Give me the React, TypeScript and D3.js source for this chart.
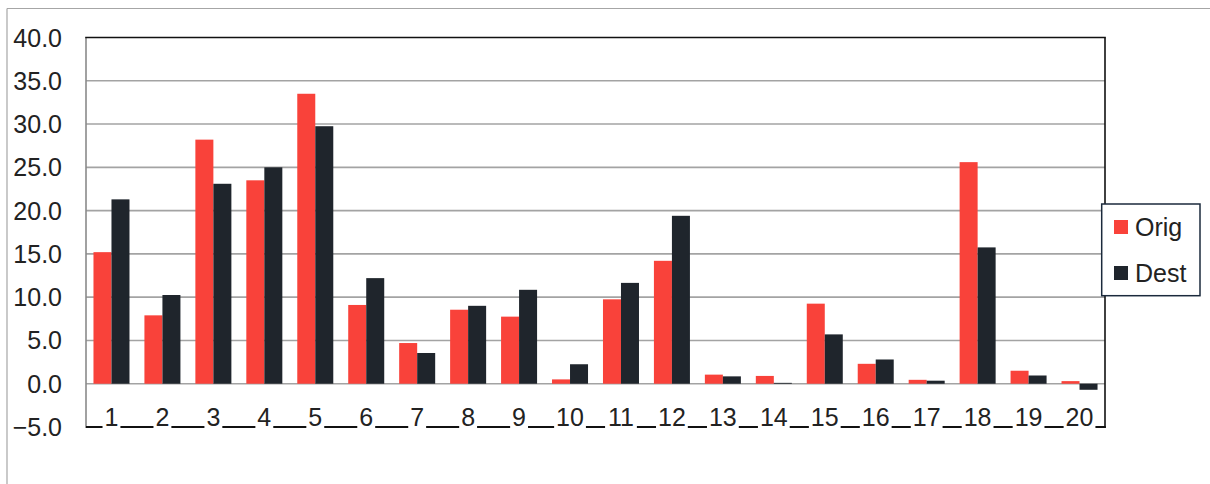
import React from "react";
import * as d3 from "d3";

const categories = ["1","2","3","4","5","6","7","8","9","10","11","12","13","14","15","16","17","18","19","20"];
const origValues = [15.2, 7.9, 28.2, 23.5, 33.5, 9.1, 4.7, 8.55, 7.75, 0.5, 9.75, 14.2, 1.05, 0.9, 9.25, 2.3, 0.45, 25.6, 1.5, 0.3];
const destValues = [21.3, 10.25, 23.1, 25.0, 29.75, 12.2, 3.55, 9.0, 10.85, 2.25, 11.65, 19.4, 0.85, 0.1, 5.7, 2.8, 0.35, 15.75, 0.95, -0.7];
const seriesNames = ["Orig", "Dest"];
const seriesColors = ["#f9423a", "#1f252c"];
const yTicks = [-5, 0, 5, 10, 15, 20, 25, 30, 35, 40];

const W = 1210;
const H = 484;
const plot = { left: 86, right: 1105, top: 37.5, bottom: 427 };
const FONT = "'Liberation Sans', Arial, Helvetica, sans-serif";
const FS = 25;

export default function App() {
  const y = d3.scaleLinear().domain([-5, 40]).range([plot.bottom, plot.top]);
  const x0 = d3.scaleBand<string>().domain(categories).range([plot.left, plot.right]).padding(0);
  const x1 = d3
    .scaleBand<string>()
    .domain(seriesNames)
    .range([0, x0.bandwidth()])
    .paddingInner(0)
    .paddingOuter(0.415);
  const values = [origValues, destValues];
  const digitW = FS * 0.556;

  return (
    <svg
      width={W}
      height={H}
      style={{ position: "absolute", left: 0, top: 0, background: "#fff" }}
      fontFamily={FONT}
    >
      {/* outer frame */}
      <line x1={7} x2={W} y1={8.5} y2={8.5} stroke="#a6a6a6" strokeWidth={1.2} />
      <line x1={7} x2={7} y1={8.5} y2={H} stroke="#a6a6a6" strokeWidth={1.2} />

      {/* gridlines */}
      {yTicks
        .filter((t) => t > -5 && t < 40)
        .map((t) => (
          <line
            key={t}
            x1={plot.left}
            x2={plot.right}
            y1={y(t)}
            y2={y(t)}
            stroke="#a3a3a3"
            strokeWidth={1.6}
          />
        ))}

      {/* bars */}
      {categories.map((c, i) => (
        <g key={c} transform={`translate(${x0(c)},0)`}>
          {seriesNames.map((s, k) => {
            const v = values[k][i];
            const y0 = y(0);
            const yv = y(v);
            return (
              <rect
                key={s}
                x={x1(s)}
                y={Math.min(y0, yv)}
                width={x1.bandwidth()}
                height={Math.abs(yv - y0)}
                fill={seriesColors[k]}
              />
            );
          })}
        </g>
      ))}

      {/* plot frame */}
      <line x1={plot.left} x2={plot.left} y1={plot.top} y2={plot.bottom + 1} stroke="#8a8a8a" strokeWidth={1.6} />
      <line x1={plot.left - 0.8} x2={plot.right + 0.8} y1={plot.top} y2={plot.top} stroke="#111" strokeWidth={1.6} />
      <line x1={plot.right} x2={plot.right} y1={plot.top} y2={plot.bottom + 1} stroke="#111" strokeWidth={1.6} />
      <line x1={plot.left} x2={plot.right + 0.8} y1={plot.bottom} y2={plot.bottom} stroke="#111" strokeWidth={2} />

      {/* category labels */}
      {categories.map((c) => {
        const cx = (x0(c) as number) + x0.bandwidth() / 2;
        const w = c.length * digitW + 4;
        return (
          <g key={c}>
            <rect x={cx - w / 2} y={plot.bottom - 3} width={w} height={6} fill="#fff" />
            <text x={cx} y={425.5} textAnchor="middle" fontSize={FS} fill="#222">
              {c}
            </text>
          </g>
        );
      })}

      {/* y tick labels */}
      {yTicks.map((t) => (
        <text
          key={t}
          x={62}
          y={y(t) + 9}
          textAnchor="end"
          fontSize={FS}
          fill="#222"
        >
          {d3.format(".1f")(t)}
        </text>
      ))}

      {/* legend */}
      <g>
        <rect x={1101.7} y={204} width={98.3} height={91.7} fill="#fff" stroke="#1b2a3c" strokeWidth={1.5} />
        {seriesNames.map((s, k) => (
          <g key={s} transform={`translate(1114,${220 + k * 46})`}>
            <rect x={0} y={0} width={14} height={14} fill={seriesColors[k]} />
            <text x={21} y={16} fontSize={FS} fill="#222">
              {s}
            </text>
          </g>
        ))}
      </g>
    </svg>
  );
}
